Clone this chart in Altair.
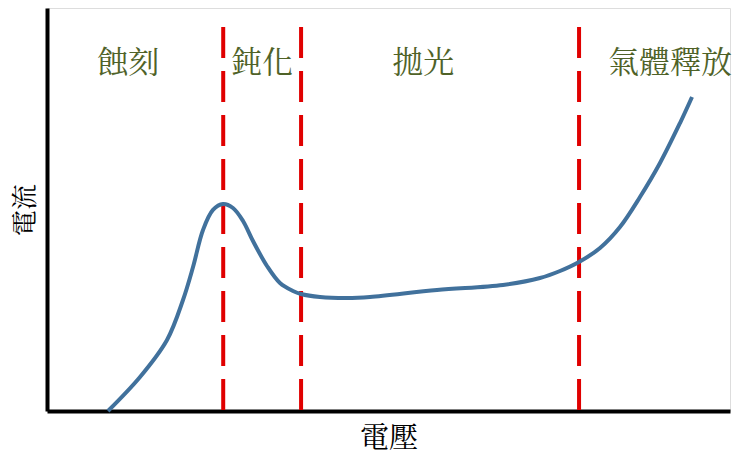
import altair as alt
import pandas as pd

# curve: voltage (0-100) vs current (0-100)
volt = [8.93, 13.62, 17.57, 19.91, 21.38, 22.84, 24.30, 25.77, 27.23, 28.70, 30.16,
        32.21, 34.11, 36.02, 37.19, 39.97, 43.92, 47.29, 57.10, 66.76, 72.18, 75.11,
        77.89, 80.97, 83.89, 86.82, 89.75, 92.68, 94.44]
curr = [0.0, 8.44, 17.62, 27.54, 35.73, 44.91, 49.88, 51.36, 50.37, 47.15, 42.18,
        35.98, 31.76, 29.78, 29.03, 28.29, 28.04, 28.29, 30.02, 31.27, 33.00, 34.74,
        36.97, 40.45, 45.66, 53.10, 61.54, 71.46, 77.92]

# region boundaries
bounds = [25.8, 37.2, 77.9]
bound_top = [95.3, 95.3, 95.3]

# region labels
regions = ["蝕刻", "鈍化", "拋光", "氣體釋放"]
region_x = [11.9, 31.5, 55.1, 91.2]
region_y = [86.1, 86.1, 86.1, 86.1]

curve_df = pd.DataFrame({"v": volt, "i": curr})
bound_df = pd.DataFrame({"v": bounds, "top": bound_top, "bot": [0, 0, 0]})
label_df = pd.DataFrame({"t": regions, "v": region_x, "i": region_y})

FONT = "'Noto Serif CJK TC', 'Noto Sans CJK TC'"

xs = alt.Scale(domain=[0, 100], nice=False, zero=False)
ys = alt.Scale(domain=[0, 100], nice=False, zero=False)

xaxis = alt.Axis(domain=True, domainColor="black", domainWidth=4, ticks=False,
                 labels=False, grid=False, title="電壓", titleFont=FONT,
                 titleFontSize=29, titleFontWeight="normal", titleColor="black",
                 titlePadding=13)
yaxis = alt.Axis(domain=True, domainColor="black", domainWidth=4, ticks=False,
                 labels=False, grid=False, title="電流", titleFont=FONT,
                 titleFontSize=26, titleFontWeight="normal", titleColor="black",
                 titlePadding=9)

curve = alt.Chart(curve_df).mark_line(
    color="#41719C", strokeWidth=4, interpolate="catmull-rom"
).encode(
    x=alt.X("v:Q", scale=xs, axis=xaxis),
    y=alt.Y("i:Q", scale=ys, axis=yaxis),
)

rules = alt.Chart(bound_df).mark_rule(
    color="#E00000", strokeWidth=4, strokeDash=[31, 13]
).encode(
    x=alt.X("v:Q", scale=xs),
    y=alt.Y("top:Q", scale=ys),
    y2="bot:Q",
)

labels = alt.Chart(label_df).mark_text(
    font=FONT, fontSize=31, color="#4F6228", align="center", baseline="middle"
).encode(
    x=alt.X("v:Q", scale=xs),
    y=alt.Y("i:Q", scale=ys),
    text="t:N",
)

chart = alt.layer(rules, curve, labels).properties(
    width=683, height=403,
    autosize=alt.AutoSizeParams(type="none"),
    padding={"left": 39, "top": 0, "right": 2, "bottom": 46},
).configure_view(stroke=None).configure(background="white")

chart.save("out.html", embed_options={"renderer": "svg", "actions": False})
